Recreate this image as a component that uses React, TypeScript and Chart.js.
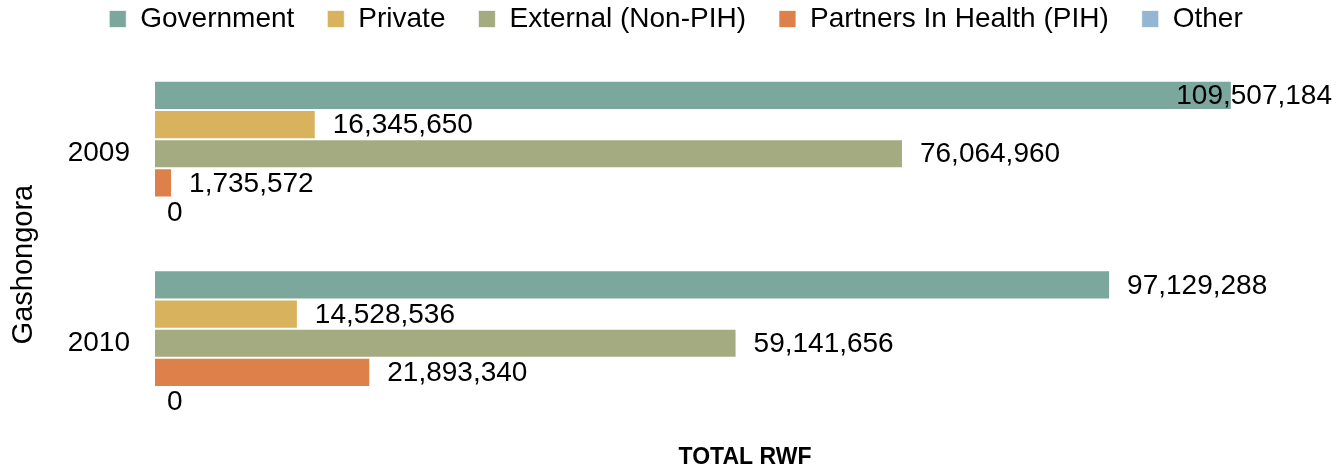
import React, { useEffect, useRef } from "react";
import { Chart, registerables } from "chart.js";

Chart.register(...registerables);

const categories = ["2009", "2010"];
const seriesNames = ["Government", "Private", "External (Non-PIH)", "Partners In Health (PIH)", "Other"];
const governmentValues = [109507184, 97129288];
const privateValues = [16345650, 14528536];
const externalValues = [76064960, 59141656];
const pihValues = [1735572, 21893340];
const otherValues = [0, 0];
const seriesColors = ["#7BA79D", "#D8B25C", "#A5AB80", "#DD804A", "#94B6D2"];
const axisMax = 120000000;
const yTitle = "Gashongora";
const xTitle = "TOTAL RWF";

const FONT = '"Liberation Sans", Arial, sans-serif';

const valueLabels = {
  id: "valueLabels",
  afterDatasetsDraw(chart: any) {
    const ctx = chart.ctx;
    ctx.save();
    ctx.font = `28px ${FONT}`;
    ctx.fillStyle = "#000";
    ctx.textBaseline = "middle";
    ctx.textAlign = "left";
    chart.data.datasets.forEach((ds: any, i: number) => {
      const meta = chart.getDatasetMeta(i);
      meta.data.forEach((bar: any, j: number) => {
        const v = ds.data[j] as number;
        const text = v.toLocaleString("en-US");
        const w = ctx.measureText(text).width;
        let x = bar.x + (v === 0 ? 12 : 17);
        const limit = chart.width - 8;
        if (x + w > limit) x = limit - w;
        ctx.fillText(text, x, bar.y + 1);
      });
    });
    ctx.restore();
  },
};

const LEFT_PAD = 17;

export default function App() {
  const ref = useRef<HTMLCanvasElement | null>(null);

  useEffect(() => {
    if (!ref.current) return;
    const allValues = [governmentValues, privateValues, externalValues, pihValues, otherValues];
    const chart = new Chart(ref.current, {
      type: "bar",
      data: {
        labels: categories,
        datasets: allValues.map((vals, i) => ({
          label: seriesNames[i],
          data: vals,
          backgroundColor: seriesColors[i],
          borderColor: "rgba(255,255,255,0.7)",
          borderWidth: 1,
          categoryPercentage: 0.77,
          barPercentage: 1,
        })),
      },
      options: {
        indexAxis: "y",
        responsive: false,
        animation: false,
        layout: { padding: { top: -28, right: 5, bottom: 0, left: LEFT_PAD } },
        plugins: {
          legend: {
            display: true,
            position: "top",
            labels: {
              boxWidth: 17,
              boxHeight: 17,
              padding: 33,
              color: "#000",
              font: { family: FONT, size: 28 },
            },
          },
          title: {
            display: true,
            text: "",
            weight: 500,
            padding: { top: 2, bottom: 2 },
            font: { size: 10 },
          } as any,
          tooltip: { enabled: false },
        },
        scales: {
          x: {
            type: "linear",
            min: 0,
            max: axisMax,
            ticks: { display: false },
            grid: { display: false },
            border: { display: false },
            title: {
              display: true,
              text: xTitle,
              color: "#000",
              font: { family: FONT, size: 23, weight: "bold" },
              padding: { top: 0, bottom: 2 },
            },
            afterFit(scale: any) {
              scale.height = 35;
              scale.paddingLeft = 0;
              scale.paddingRight = 0;
            },
          },
          y: {
            type: "category",
            ticks: {
              color: "#000",
              font: { family: FONT, size: 28 },
              padding: 25,
            },
            grid: { display: false, drawTicks: false },
            border: { display: false },
            title: {
              display: true,
              text: yTitle + "    ",
              color: "#000",
              font: { family: FONT, size: 29 },
              padding: { top: -10, bottom: 0 },
            },
            afterFit(scale: any) {
              scale.width = 155 - LEFT_PAD;
              scale.paddingTop = 0;
              scale.paddingBottom = 0;
            },
          },
        },
      },
      plugins: [valueLabels],
    } as any);
    return () => chart.destroy();
  }, []);

  return (
    <div style={{ position: "fixed", left: 0, top: 0, width: 1340, height: 473, background: "#fff" }}>
      <canvas ref={ref} width={1340} height={473} style={{ display: "block" }} />
    </div>
  );
}
